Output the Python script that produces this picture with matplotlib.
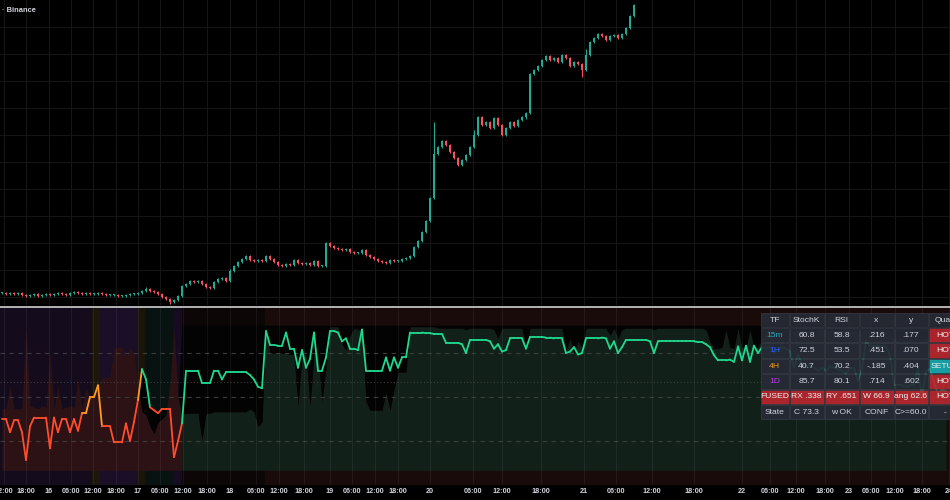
import matplotlib
matplotlib.use("Agg")
import matplotlib.pyplot as plt
import numpy as np
from matplotlib.collections import LineCollection
from matplotlib.patches import Rectangle

# ---- price pane: one close per bar (only the part that is on screen) ----
closes = [12, 11, 12, 11, 12, 10, 9, 10, 11, 9,
          10, 11, 10, 11, 12, 11, 10, 12, 13, 12,
          11, 12, 11, 11, 12, 11, 10, 10, 10, 9,
          9, 10, 11, 11, 12, 14, 16, 14, 13, 11,
          8, 6, 3, 5, 9, 19, 21, 24, 23, 24,
          21, 18, 17, 23, 26, 27, 24, 34, 39, 43,
          46, 49, 45, 44, 45, 44, 49, 46, 43, 40,
          39, 41, 40, 45, 42, 41, 42, 40, 44, 39,
          39, 62, 59, 57, 56, 55, 56, 53, 52, 52,
          55, 50, 48, 46, 44, 43, 42, 45, 44, 44,
          46, 47, 49, 58, 64, 73, 84, 107, 151, 158,
          164, 160, 153, 147, 140, 145, 150, 158, 170, 188,
          180, 183, 177, 187, 180, 170, 177, 183, 179, 185,
          188, 192, 231, 235, 239, 245, 249, 245, 247, 243,
          250, 247, 239, 243, 241, 235, 250, 263, 267, 271,
          269, 265, 269, 270, 267, 271, 277, 289, 300]
wick_highs = {36: 18, 57: 36, 81: 63, 108: 183, 118: 175, 146: 256}
wick_lows = {42: 1, 114: 139, 145: 228, 131: 186}

# ---- oscillator pane ----
osc = [35, 35, 26, 34, 34, 26, 7, 30, 36, 36,
       36, 36, 15, 36, 26, 35, 35, 26, 35, 27,
       39, 39, 50, 50, 58, 30, 30, 30, 19, 19,
       19, 32, 20, 33, 48, 69, 62, 43, 41, 39,
       42, 42, 42, 9, 20, 32,
       68, 68, 68, 68, 59.5, 59.5, 59.5, 68, 68, 62,
       67, 67, 67, 67, 67, 67, 65, 62, 57, 56,
       95, 85.5, 85.5, 85, 85, 94, 83, 83, 70, 82,
       70, 76, 94, 68, 68, 77, 95, 95, 94, 88,
       90, 83, 83, 82, 96, 68, 68, 68, 68, 68,
       77, 68, 77, 70, 77, 77,
       94, 94, 94, 94, 93.5, 93.5, 93, 93, 93,
       87, 87, 87, 87, 86, 80, 89, 89, 89,
       89, 89, 88, 83, 86, 81, 82, 90, 90, 90, 90,
       83, 91, 91, 91, 91, 90.5, 90.5, 90, 90, 90,
       80, 81, 84, 79, 80,
       90, 90, 90, 90, 90.5, 90,
       83, 88, 80, 84,
       89, 89, 89, 89, 89, 89, 88,
       80, 88, 88, 88, 88, 88,
       88, 88, 88, 88, 88, 87.5, 87.5, 86,
       84, 78.5, 75, 75, 75, 75.5, 74, 84.5, 75, 85, 74, 85,
       80, 84, 83, 84, 80, 82, 84, 83, 81, 70,
       79, 72, 71, 72, 70, 68, 70, 68, 71, 70,
       69, 68, 66, 70, 70, 61, 69, 88, 85, 85,
       85, 85, 84, 78, 58, 58, 58, 57, 58, 58,
       70, 49, 68, 69, 60, 52, 55, 54]
shadow = [42, 42, 57, 42, 42, 42, 97, 44, 43, 42,
          44, 43, 80, 42, 58, 42, 43, 44, 43, 62,
          43, 56, 50, 50, 58, 63, 63, 64, 83, 84,
          84, 77, 84, 80, 57, 40, 38, 30, 25, 33,
          35, 38, 60, 97, 50, 38,
          39, 39, 39, 39, 21, 39, 39, 40, 40, 40,
          40, 40, 40, 40, 40, 40, 42, 40, 30, 33,
          98, 80, 80, 80, 80, 80, 79, 79, 44, 79,
          79, 44, 80, 80, 47, 70, 98, 98, 98, 86,
          82, 92, 97, 96, 97, 47, 41, 41, 41, 41,
          53, 41, 55, 67, 67, 67,
          98, 98, 98, 98, 98, 98, 98, 97, 97,
          97, 97, 97, 97, 97, 96, 97, 97, 97,
          97, 97, 97, 96, 90, 97, 97, 97, 97, 97, 97,
          83, 97, 97, 97, 97, 97, 97, 97, 97, 97,
          82, 90, 80, 88, 84,
          97, 97, 97, 97, 97, 97,
          92, 97, 90, 96,
          97, 97, 97, 97, 97, 97, 97,
          96, 97, 97, 97, 97, 97,
          97, 97, 97, 97, 97, 97, 97, 96,
          88, 83, 83, 84, 96, 84, 83, 97, 84, 84, 96, 84,
          84, 90, 95, 96, 96, 95, 90, 85, 96, 96,
          96, 96, 95, 92, 90, 96, 96, 96, 96, 95,
          95, 96, 96, 96, 96, 95, 95, 96, 96, 96,
          96, 96, 96, 95, 90, 90, 91, 90, 90, 90,
          90, 88, 90, 90, 88, 88, 88, 88]

# background colour regimes (bar index edges)
bg_edges = [-0.5, 22.5, 24.5, 34, 35.75, 42.75, 45, 65.75, 237]
bg_colors = ["#140c1d", "#1c160b", "#1b0e27", "#19150a", "#081311",
             "#170b22", "#0c0606", "#1a0b0b"]

# line colour state, starting bar of each state
state_breaks = [0, 20, 25, 34, 35, 37, 45]
state_names = ["bear", "warm", "bear", "warm", "bull", "bear", "bull"]
BULL_FROM = 45

tick_pos = [0.5, 6, 11.75, 17.25, 22.75, 28.5, 34, 39.5, 45.25, 51.25,
            57, 63.5, 69.25, 75.5, 82, 87.5, 93.25, 99, 107, 117.75,
            125, 134.75, 145.5, 153.5, 162.5, 173, 185, 192, 198.5, 205.75,
            211.75, 217.25, 223.25, 230, 236.8]
tick_labels = ["12:00", "18:00", "16", "06:00", "12:00", "18:00", "17", "06:00", "12:00", "18:00",
               "18", "06:00", "12:00", "18:00", "19", "06:00", "12:00", "18:00", "20", "06:00",
               "12:00", "18:00", "21", "06:00", "12:00", "18:00", "22", "06:00", "12:00", "18:00",
               "23", "06:00", "12:00", "18:00", "24"]

table_header = ["TF", "StochK", "RSI", "x", "y", "Quad"]
table_rows = [["15m", "60.8", "58.8", ".216", ".177", "HOT"],
              ["1H", "72.5", "53.5", ".451", ".070", "HOT"],
              ["4H", "40.7", "70.2", "-.185", ".404", "SETUP"],
              ["1D", "85.7", "80.1", ".714", ".602", "HOT"],
              ["FUSED", "RX .338", "RY .651", "W 66.9", "ang 62.6", "HOT"],
              ["State", "C 73.3", "w OK", "CONF", "C>=60.0", "-"]]

# ---- styling ----
UP, DOWN = "#22ab94", "#f7525f"
LINE_COLORS = {"bear": "#ff4d2e", "warm": "#ff9b22", "bull": "#1fd98f"}
TF_COLORS = {"15m": "#26a9bd", "1H": "#2962ff", "4H": "#f0981f", "1D": "#b63ee6"}
TXT = "#d1d4dc"
CELL = "#262a35"
HOT = "#b8262f"
SETUP = "#17a8ad"
CAP_LEVEL = 99

plt.rcParams['font.family'] = ['Liberation Sans', 'DejaVu Sans']

fig = plt.figure(figsize=(9.5, 5), dpi=100, facecolor="#000000")

# price pane
ax = fig.add_axes([0, 0.39, 1, 0.61])
ax.set_facecolor("#000000")
n = len(closes)
idx = np.arange(n)
c = np.array(closes, dtype=float)
o = np.concatenate([[c[0]], c[:-1]])
body_lo = np.minimum(o, c)
body_hi = np.maximum(o, c)
hi = body_hi + 1.2
lo = body_lo - 1.2
for k, v in wick_highs.items():
    hi[k] = v
for k, v in wick_lows.items():
    lo[k] = v
cols = [UP if c[i] >= o[i] else DOWN for i in range(n)]
ax.vlines(idx, lo, hi, colors=cols, lw=0.8, zorder=2)
ax.bar(idx, np.maximum(body_hi - body_lo, 1.0), bottom=body_lo, width=0.74,
       color=cols, lw=0, zorder=3)
ax.set_xlim(-0.5, 237)
ax.set_ylim(0, 305)
ax.set_xticks(tick_pos)
ax.set_yticks(np.arange(8, 305, 27))
ax.grid(True, color="#151515", lw=0.8, zorder=0)
ax.tick_params(length=0, labelbottom=False, labelleft=False)
for s in ax.spines.values():
    s.set_visible(False)
ax.text(0.002, 0.967, "· Binance", transform=ax.transAxes, color=TXT,
        fontsize=5.4, fontweight="bold", va="center", ha="left")

# oscillator pane
ax2 = fig.add_axes([0, 0.03, 1, 0.356])
ax2.set_facecolor("#000000")
ax2.set_xlim(-0.5, 237)
ax2.set_ylim(-10, 111.4)
for k in range(len(bg_colors)):
    ax2.axvspan(bg_edges[k], bg_edges[k + 1], color=bg_colors[k], lw=0, zorder=0)

x = np.arange(len(osc))
y = np.array(osc, dtype=float)
sh = np.array(shadow, dtype=float)
ax2.fill_between(x, 0, sh, where=x <= BULL_FROM, color="#2d1215", lw=0, zorder=1)
ax2.fill_between(x, 0, sh, where=x >= BULL_FROM, color="#11211a", lw=0, zorder=1)
ax2.fill_between(x, sh, CAP_LEVEL, where=(x >= BULL_FROM) & (sh < CAP_LEVEL),
                 color="#040303", lw=0, zorder=1, interpolate=True)
ax2.fill_between(x, sh, y, where=(x >= 35) & (x <= BULL_FROM) & (y > sh),
                 color="#040303", lw=0, zorder=1, interpolate=True)

for lvl, ls in [(80, (0, (4, 4))), (60, (0, (1, 2))), (50, (0, (4, 4))), (20, (0, (4, 4)))]:
    ax2.axhline(lvl, color="#3c3c3c", lw=0.8, ls=ls, zorder=1.5)

ax2.set_xticks(tick_pos, tick_labels)
ax2.set_yticks([])
ax2.grid(True, axis="x", color="#ffffff", alpha=0.06, lw=0.8, zorder=1.6)
ax2.tick_params(axis="x", length=0, pad=2.5, labelsize=5.2, labelcolor=TXT)
for lbl in ax2.get_xticklabels():
    lbl.set_fontweight("bold")
for name, s in ax2.spines.items():
    s.set_visible(name == "top")
ax2.spines["top"].set_color("#d0d0d0")
ax2.spines["top"].set_linewidth(1.2)

# oscillator line, coloured by state
seg_state = []
for i in range(len(osc) - 1):
    st = state_names[0]
    for b, nm in zip(state_breaks, state_names):
        if i >= b:
            st = nm
    seg_state.append(st)
pts = np.column_stack([x, y])
segs = np.stack([pts[:-1], pts[1:]], axis=1)
lc = LineCollection(segs, colors=[LINE_COLORS[s] for s in seg_state], lw=1.3,
                    zorder=3, capstyle="round", joinstyle="round")
ax2.add_collection(lc)

# status table (pixel coordinates of the overlay)
ax3 = fig.add_axes([0, 0, 1, 1])
ax3.set_xlim(0, 950)
ax3.set_ylim(500, 0)
ax3.axis("off")
ax3.patch.set_alpha(0)
col_w = [29, 35, 35, 35, 34, 34]
col_x = np.concatenate([[760], 760 + np.cumsum(col_w)[:-1]])
row_h = 15.4
row_y0 = 312
all_rows = [table_header] + table_rows
for r, row in enumerate(all_rows):
    for cidx, txt in enumerate(row):
        face = CELL
        if row[0] == "FUSED":
            face = HOT
        elif r > 0 and cidx == 5 and txt == "HOT":
            face = HOT
        elif r > 0 and cidx == 5 and txt == "SETUP":
            face = SETUP
        ax3.add_patch(Rectangle((col_x[cidx] + 0.5, row_y0 + r * row_h + 0.5),
                                col_w[cidx] - 1, row_h - 1, facecolor=face,
                                edgecolor="#3a3e4a", lw=0.5, alpha=0.93, zorder=5))
        tc = TXT
        if r > 0 and cidx == 0 and txt in TF_COLORS:
            tc = TF_COLORS[txt]
        if face != CELL:
            tc = "#f0f0f0"
        ax3.text(col_x[cidx] + col_w[cidx] / 2, row_y0 + r * row_h + row_h / 2 + 0.3, txt,
                 color=tc, fontsize=6.1, ha="center", va="center", zorder=6)

fig.savefig("out.png", dpi=100, facecolor="#000000")
